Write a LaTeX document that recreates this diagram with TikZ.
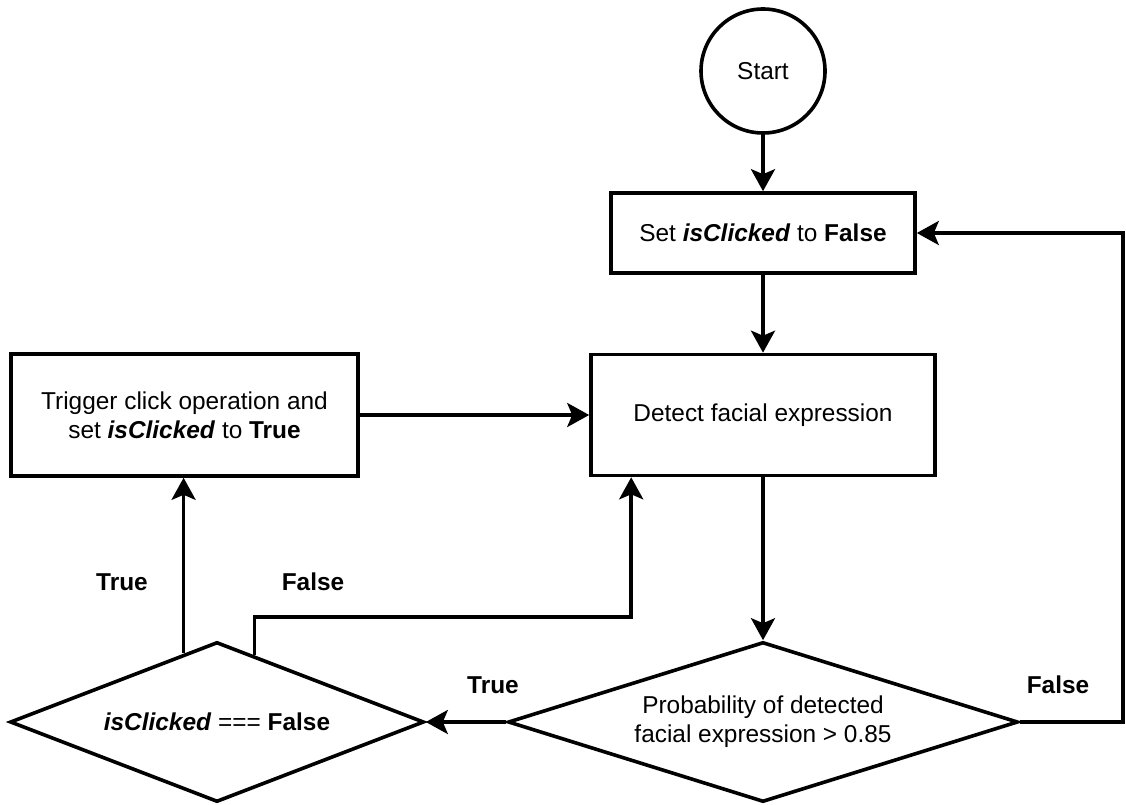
\documentclass[tikz,border=0pt]{standalone}
\usepackage{fontspec}
\setmainfont{Liberation Sans}
\usetikzlibrary{shapes.geometric,arrows.meta,calc}

\begin{document}
\begin{tikzpicture}[
    x = 1pt, y = -1pt,
    line width = 3.6pt,
    font = \fontsize{24.4}{29}\selectfont,
    arr/.style = {-{Stealth[length=22pt, width=24pt, inset=5pt]}},
    box/.style = {draw, rectangle, align = center, inner sep = 0pt},
    cond/.style = {draw, diamond, align = center, inner sep = 0pt},
    lbl/.style = {font = \fontsize{24.4}{29}\selectfont\bfseries}]

\useasboundingbox (0,0) rectangle (1126,805);

\node[draw, circle, minimum size = 124pt] (start) at (763,71) {Start};
\node[box, minimum width = 304pt, minimum height = 80pt] (setf) at (763,233)
	{Set \textbf{\textit{isClicked}} to \textbf{False}};
\node[box, minimum width = 344pt, minimum height = 121pt] (detect) at (763,415)
	{Detect facial expression};
\node[box, minimum width = 347pt, minimum height = 122pt] (trig) at (184.5,415)
	{Trigger click operation and\\set \textbf{\textit{isClicked}} to \textbf{True}};
\node[cond, aspect = 3.19, minimum width = 510pt, minimum height = 160pt] (prob) at (763,722)
	{Probability of detected\\facial expression > 0.85};
\node[cond, aspect = 2.59, minimum width = 414pt, minimum height = 160pt] (isc) at (217,722)
	{\textbf{\textit{isClicked}} === \textbf{False}};

\coordinate (tru) at ($(isc.north)!0.16!(isc.west)$);
\coordinate (fls) at ($(isc.north)!0.18!(isc.east)$);
\coordinate (rgt) at (1123,0);

\draw[arr] (start) -- (setf);
\draw[arr] (setf) -- (detect);
\draw[arr] (trig) -- (detect);
\draw[arr] (detect) -- (prob);
\draw[arr] (prob.west) -- (isc.east);
\draw[arr] (tru) -- (tru |- trig.south);
\draw[arr] (fls) -- (fls |- 0,617) -| ($(detect.south west)+(42,0)$);
\draw[arr] (prob.east) -- (prob.east -| rgt) |- (setf.east);

\path (122,582) node[lbl](ltrue) {True}
	  (313,582) node[lbl](lfalse) {False}
	  (493,685) node[lbl](ptrue) {True}
	  (1058,685) node[lbl](pfalse) {False}
	  ;
\end{tikzpicture}
\end{document}
